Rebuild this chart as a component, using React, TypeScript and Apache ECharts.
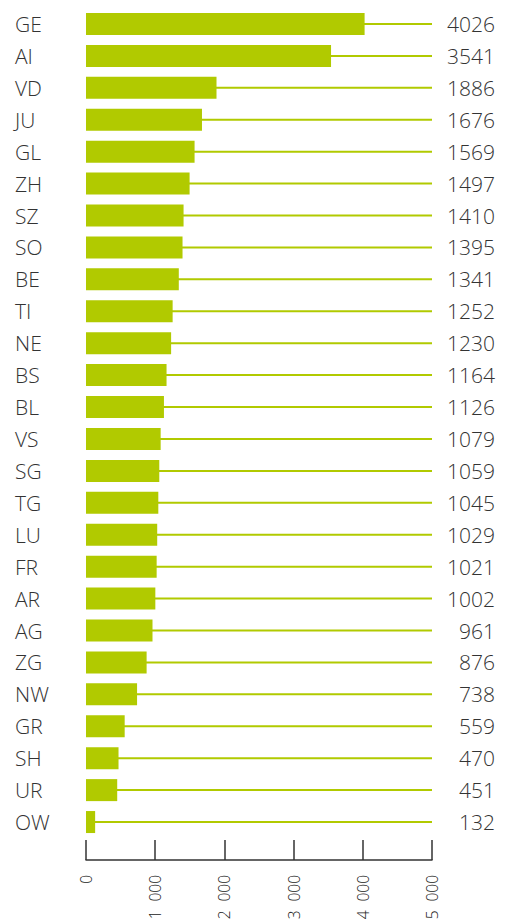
import React, { useEffect, useRef } from "react";
import * as echarts from "echarts";

const categories = ["GE","AI","VD","JU","GL","ZH","SZ","SO","BE","TI","NE","BS","BL","VS","SG","TG","LU","FR","AR","AG","ZG","NW","GR","SH","UR","OW"];
const values = [4026,3541,1886,1676,1569,1497,1410,1395,1341,1252,1230,1164,1126,1079,1059,1045,1029,1021,1002,961,876,738,559,470,451,132];
const axisMax = 5000;
const tickInterval = 1000;

const GREEN = "#b1ca00";
const TEXT = "#333333";
const FONT = "Open Sans";

function fmt(v: number): string {
  const s = String(Math.round(v));
  return s.replace(/\B(?=(\d{3})+(?!\d))/g, "\u2007");
}

export default function App() {
  const ref = useRef<HTMLDivElement>(null);
  useEffect(() => {
    if (!ref.current) return;
    const chart = echarts.init(ref.current, undefined, { renderer: "svg" });
    chart.setOption({
      animation: false,
      grid: { left: 86, right: 74, top: 8, bottom: 81, containLabel: false, outerBoundsMode: "none" },
      xAxis: {
        type: "value",
        min: 0,
        max: axisMax,
        interval: tickInterval,
        offset: 22,
        splitLine: { show: false },
        axisLine: { show: true, lineStyle: { color: TEXT, width: 1.5 } },
        axisTick: { show: true, inside: true, length: 20, lineStyle: { color: TEXT, width: 1.5 } },
        axisLabel: {
          rotate: 90,
          margin: 15,
          fontSize: 15.5,
          fontFamily: FONT,
          fontWeight: 300,
          color: "#222222",
          formatter: (v: number) => fmt(v),
        },
      },
      yAxis: [
        {
          type: "category",
          data: categories,
          inverse: true,
          axisLine: { show: false },
          axisTick: { show: false },
          axisLabel: { align: "left", margin: 71, fontSize: 21, fontFamily: FONT, fontWeight: 300, color: TEXT },
        },
        {
          type: "category",
          data: values.map((v) => String(v)),
          inverse: true,
          position: "right",
          axisLine: { show: false },
          axisTick: { show: false },
          axisLabel: { align: "right", margin: 63, fontSize: 21, fontFamily: FONT, fontWeight: 300, color: TEXT },
        },
      ],
      series: [
        {
          type: "bar",
          yAxisIndex: 1,
          data: values.map(() => axisMax),
          barWidth: 2,
          itemStyle: { color: GREEN },
          silent: true,
          z: 1,
        },
        {
          type: "bar",
          yAxisIndex: 0,
          data: values,
          barWidth: 22,
          itemStyle: { color: GREEN },
          z: 2,
        },
      ],
    });
    return () => chart.dispose();
  }, []);
  return (
    <div
      ref={ref}
      style={{ position: "absolute", left: 0, top: 0, width: 506, height: 919 }}
    />
  );
}
